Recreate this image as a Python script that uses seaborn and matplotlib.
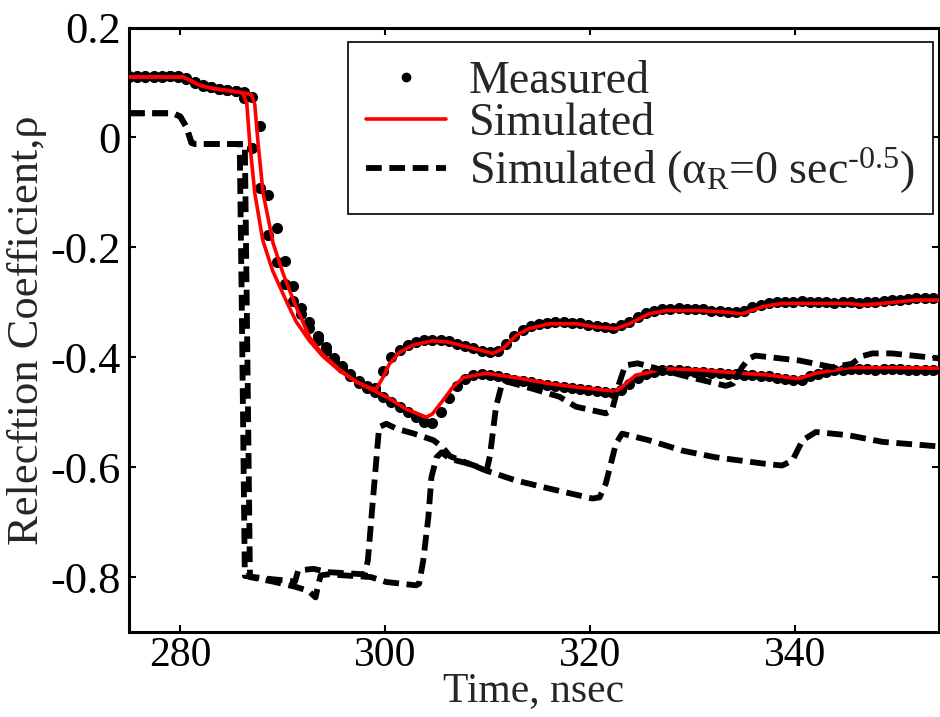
import numpy as np
import seaborn as sns
import matplotlib.pyplot as plt
from matplotlib.lines import Line2D

# measured TDR samples (0.8 ns sampling), two loads
t_meas = 275.0 + 0.8 * np.arange(100)
meas_upper = [0.111, 0.110, 0.112, 0.110, 0.111, 0.112, 0.110, 0.108, 0.100, 0.094,
              0.091, 0.089, 0.086, 0.084, 0.082, 0.074, 0.020, -0.105, -0.165, -0.225,
              -0.270, -0.311, -0.336, -0.361, -0.382, -0.402, -0.416, -0.430, -0.443, -0.452,
              -0.456, -0.425, -0.400, -0.386, -0.377, -0.372, -0.369, -0.368, -0.368, -0.371,
              -0.375, -0.379, -0.384, -0.388, -0.391, -0.388, -0.375, -0.361, -0.350, -0.344,
              -0.340, -0.337, -0.336, -0.336, -0.337, -0.338, -0.341, -0.343, -0.345, -0.346,
              -0.342, -0.335, -0.326, -0.319, -0.315, -0.313, -0.312, -0.311, -0.312, -0.312,
              -0.313, -0.315, -0.316, -0.317, -0.318, -0.315, -0.309, -0.305, -0.302, -0.300,
              -0.299, -0.299, -0.298, -0.299, -0.299, -0.300, -0.301, -0.300, -0.300, -0.301,
              -0.300, -0.299, -0.298, -0.296, -0.295, -0.294, -0.293, -0.293, -0.292, -0.292]
meas_lower = [0.110, 0.111, 0.110, 0.112, 0.110, 0.111, 0.111, 0.107, 0.099, 0.095,
              0.092, 0.089, 0.087, 0.084, 0.072, -0.020, -0.092, -0.178, -0.226, -0.266,
              -0.297, -0.322, -0.347, -0.369, -0.388, -0.405, -0.420, -0.434, -0.446, -0.456,
              -0.464, -0.473, -0.482, -0.491, -0.500, -0.509, -0.517, -0.519, -0.500, -0.474,
              -0.452, -0.440, -0.433, -0.431, -0.432, -0.435, -0.438, -0.441, -0.443, -0.445,
              -0.448, -0.450, -0.452, -0.454, -0.456, -0.458, -0.460, -0.462, -0.464, -0.465,
              -0.460, -0.448, -0.437, -0.430, -0.426, -0.424, -0.423, -0.424, -0.425, -0.426,
              -0.427, -0.428, -0.429, -0.430, -0.431, -0.432, -0.433, -0.434, -0.435, -0.437,
              -0.439, -0.441, -0.441, -0.435, -0.430, -0.427, -0.424, -0.423, -0.422, -0.422,
              -0.422, -0.423, -0.422, -0.422, -0.422, -0.423, -0.423, -0.423, -0.424, -0.424]

# simulated (with loss)
sim_upper_t = [275.0, 280.3, 281.9, 283.2, 285.5, 286.5, 286.95, 287.27, 287.59, 288.08,
               289.05, 290.02, 291.16, 292.62, 293.92, 295.5, 297.2, 298.4, 299.1, 299.8,
               300.4, 301.4, 302.7, 304.6, 306.0, 308.2, 310.5, 311.5, 312.8, 314.0,
               316.0, 318.6, 320.6, 322.5, 323.8, 325.7, 327.4, 330.6, 333.2, 334.8,
               336.8, 338.7, 342.0, 345.2, 346.5, 348.5, 351.7, 354.5]
sim_upper = [0.110, 0.110, 0.095, 0.089, 0.083, 0.080, 0.078, 0.060, -0.010, -0.101,
             -0.192, -0.247, -0.302, -0.364, -0.395, -0.422, -0.445, -0.455, -0.458, -0.436,
             -0.412, -0.391, -0.378, -0.370, -0.372, -0.382, -0.393, -0.384, -0.360, -0.348,
             -0.339, -0.339, -0.345, -0.348, -0.339, -0.321, -0.315, -0.315, -0.318, -0.321,
             -0.308, -0.302, -0.302, -0.302, -0.305, -0.302, -0.296, -0.296]
sim_lower_t = [275.0, 280.3, 281.9, 283.2, 285.5, 286.1, 286.49, 286.78, 287.27, 288.05,
               289.0, 290.4, 291.3, 292.6, 293.9, 295.5, 297.2, 298.8, 300.4, 302.0,
               304.0, 304.6, 305.6, 306.6, 307.6, 309.8, 313.0, 316.0, 319.0, 321.5,
               322.5, 323.2, 324.4, 327.2, 330.6, 333.9, 337.1, 340.3, 342.0, 345.2,
               350.0, 354.5]
sim_lower = [0.110, 0.110, 0.095, 0.089, 0.083, 0.081, 0.062, -0.010, -0.101, -0.187,
             -0.242, -0.300, -0.335, -0.370, -0.398, -0.424, -0.445, -0.460, -0.475, -0.494,
             -0.509, -0.503, -0.479, -0.454, -0.437, -0.429, -0.438, -0.448, -0.455, -0.460,
             -0.462, -0.452, -0.433, -0.421, -0.423, -0.428, -0.432, -0.439, -0.429, -0.419,
             -0.419, -0.420]

# simulated without skin loss (alpha_R = 0)
noloss_a_t = [275.0, 279.3, 280.0, 280.6, 281.1, 281.5, 285.8, 286.0, 286.3, 288.5,
              291.2, 291.5, 293.0, 294.4, 298.0, 298.3, 298.7, 299.2, 299.4, 300.1,
              301.1, 302.8, 304.7, 305.6, 306.3, 308.2, 309.9, 310.2, 310.8, 311.4,
              311.8, 314.5, 317.0, 318.6, 321.5, 322.1, 322.8, 323.4, 324.6, 329.0,
              333.2, 333.9, 334.8, 335.5, 336.1, 340.4, 343.6, 345.5, 346.5, 347.5,
              349.4, 354.5]
noloss_a = [0.044, 0.044, 0.038, 0.019, -0.010, -0.012, -0.012, -0.300, -0.798, -0.803,
            -0.808, -0.788, -0.785, -0.791, -0.795, -0.770, -0.680, -0.570, -0.527, -0.521,
            -0.530, -0.539, -0.551, -0.564, -0.580, -0.594, -0.605, -0.580, -0.490, -0.447,
            -0.444, -0.458, -0.472, -0.490, -0.502, -0.497, -0.448, -0.415, -0.411, -0.433,
            -0.452, -0.448, -0.418, -0.402, -0.397, -0.406, -0.418, -0.412, -0.398, -0.393,
            -0.393, -0.403]
noloss_b_t = [275.0, 279.3, 280.0, 280.6, 281.1, 281.5, 286.3, 286.55, 286.8, 289.0,
              291.3, 292.5, 293.2, 293.45, 293.7, 294.4, 298.6, 300.1, 303.0, 303.3,
              303.7, 304.2, 304.5, 305.0, 305.5, 306.3, 308.2, 309.8, 312.7, 316.0,
              320.2, 320.9, 321.5, 322.5, 323.1, 325.7, 329.0, 332.2, 337.1, 338.7,
              339.7, 340.7, 342.0, 345.2, 348.5, 354.5]
noloss_b = [0.044, 0.044, 0.038, 0.019, -0.010, -0.012, -0.012, -0.400, -0.800, -0.808,
            -0.818, -0.825, -0.837, -0.815, -0.797, -0.795, -0.800, -0.809, -0.815, -0.812,
            -0.770, -0.691, -0.618, -0.582, -0.573, -0.585, -0.594, -0.606, -0.624, -0.639,
            -0.657, -0.655, -0.630, -0.557, -0.539, -0.551, -0.570, -0.582, -0.594, -0.597,
            -0.588, -0.551, -0.536, -0.542, -0.554, -0.563]

labels = ['Measured', 'Simulated', r'Simulated ($\alpha_{R}$=0 sec$^{\text{-0.5}}$)']

sns.set_style("ticks")
plt.rcParams['font.family'] = ['Liberation Serif', 'DejaVu Serif']
plt.rcParams['mathtext.fontset'] = 'custom'
plt.rcParams['mathtext.rm'] = 'Liberation Serif'
plt.rcParams['mathtext.it'] = 'Liberation Serif:italic'
plt.rcParams['mathtext.default'] = 'regular'

fig = plt.figure(figsize=(9.4, 7.17), dpi=100)
ax = fig.add_axes([0.1372, 0.1185, 0.8617, 0.8431])

dash = (0, (2.7, 1.3))

#puntos medidos
for m in (meas_upper, meas_lower):
    sns.scatterplot(x=t_meas, y=m, ax=ax, color='black', s=64, linewidth=0, zorder=2)

#simulados en rojo
for tt, rr in ((sim_upper_t, sim_upper), (sim_lower_t, sim_lower)):
    sns.lineplot(x=tt, y=rr, ax=ax, color='red', lw=2.6, sort=False, estimator=None, zorder=3)

#sin perdidas, discontinuo
for tt, rr in ((noloss_a_t, noloss_a), (noloss_b_t, noloss_b)):
    sns.lineplot(x=tt, y=rr, ax=ax, color='black', lw=4.2, linestyle=dash,
                 sort=False, estimator=None, zorder=4)

ax.set_xlim(275, 354.0)
ax.set_ylim(-0.9, 0.2)
ax.set_xticks([280, 300, 320, 340])
ax.set_yticks([0.2, 0, -0.2, -0.4, -0.6, -0.8])
ax.set_yticklabels(['0.2', '0', '-0.2', '-0.4', '-0.6', '-0.8'])

ax.tick_params(direction='in', length=5, width=1.5, top=True, right=True,
               labelsize=32, pad=6, colors='black')
ax.tick_params(axis='x', labelsize=30, pad=3)
for s in ['bottom', 'left', 'right', 'top']:
    ax.spines[s].set_linewidth(2.2)
    ax.spines[s].set_color('black')

ax.set_xlabel('Time, nsec', fontsize=30, labelpad=-2)
ax.set_ylabel('Relecftion Coefficient,ρ', fontsize=32, labelpad=2)

handles = [Line2D([], [], marker='o', color='black', ls='none', markersize=6),
           Line2D([], [], color='red', lw=2.6),
           Line2D([], [], color='black', lw=4.2, ls=dash)]
leg = ax.legend(handles, labels, loc='upper right', bbox_to_anchor=(0.993, 0.976),
                fontsize=33, frameon=True, fancybox=False, edgecolor='black', framealpha=1,
                borderpad=0.4, labelspacing=0.0, handlelength=1.75, handletextpad=0.5,
                borderaxespad=0)
leg.get_frame().set_linewidth(1.2)

fig.savefig('out.png', dpi=100)
